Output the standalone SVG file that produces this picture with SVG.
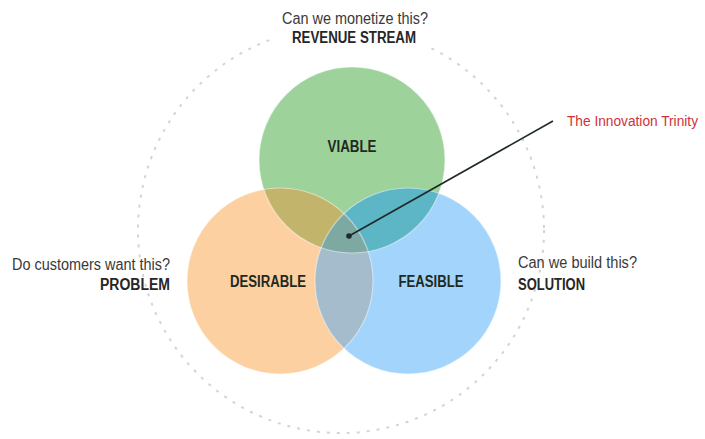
<svg xmlns="http://www.w3.org/2000/svg" width="705" height="439" viewBox="0 0 705 439">
<style>
.q{font-family:"Liberation Sans",Arial,sans-serif;font-size:16px;fill:#3a3a3a}
.b{font-family:"Liberation Sans",Arial,sans-serif;font-size:16px;font-weight:bold;fill:#262626}
.c{font-family:"Liberation Sans",Arial,sans-serif;font-size:16px;font-weight:bold;fill:#1f2a1f}
.r{font-family:"Liberation Sans",Arial,sans-serif;font-size:14px;fill:#d0313a}
.edge{fill:none;stroke:#ffffff;stroke-opacity:0.45;stroke-width:1.2}
</style>
<defs>
<clipPath id="cg"><circle cx="352" cy="160" r="93"/></clipPath>
<clipPath id="co"><circle cx="280" cy="281" r="93"/></clipPath>
<clipPath id="cb"><circle cx="408" cy="281" r="93"/></clipPath>
</defs>
<rect width="705" height="439" fill="#ffffff"/>
<g id="outer">
<circle cx="341" cy="230" r="203" fill="none" stroke="#d4d4d4" stroke-width="2" stroke-dasharray="3 7"/>
<rect x="275" y="8" width="160" height="40" fill="#ffffff"/>
</g>
<g id="viable">
<circle cx="352" cy="160" r="93" fill="#9dd29b"/>
</g>
<g id="desirable">
<circle cx="280" cy="281" r="93" fill="#fdd0a2"/>
</g>
<g id="feasible">
<circle cx="408" cy="281" r="93" fill="#a3d4fb"/>
</g>
<g id="overlaps">
<g clip-path="url(#cg)"><circle cx="280" cy="281" r="93" fill="#c2b46b"/></g>
<g clip-path="url(#cg)"><circle cx="408" cy="281" r="93" fill="#5cb6c6"/></g>
<g clip-path="url(#co)"><circle cx="408" cy="281" r="93" fill="#a4bccc"/></g>
<g clip-path="url(#cg)"><g clip-path="url(#co)"><circle cx="408" cy="281" r="93" fill="#7ea9a2"/></g></g>
<circle class="edge" cx="352" cy="160" r="93"/>
<circle class="edge" cx="280" cy="281" r="93"/>
<circle class="edge" cx="408" cy="281" r="93"/>
</g>
<g id="connectors">
<line x1="349" y1="236" x2="553" y2="121" stroke="#1e2a2a" stroke-width="1.6"/>
<circle cx="349" cy="236" r="2.8" fill="#1e2a2a"/>
</g>
<g id="labels">
<text class="c" x="352" y="152" text-anchor="middle" textLength="49" lengthAdjust="spacingAndGlyphs">VIABLE</text>
<text class="c" x="268" y="287" text-anchor="middle" textLength="76" lengthAdjust="spacingAndGlyphs">DESIRABLE</text>
<text class="c" x="431" y="287" text-anchor="middle" textLength="65" lengthAdjust="spacingAndGlyphs">FEASIBLE</text>
</g>
<g id="revenue">
<text class="q" x="355" y="24" text-anchor="middle" textLength="146" lengthAdjust="spacingAndGlyphs">Can we monetize this?</text>
<text class="b" x="354" y="43" text-anchor="middle" textLength="124" lengthAdjust="spacingAndGlyphs">REVENUE STREAM</text>
</g>
<g id="problem">
<text class="q" x="12" y="270" textLength="158" lengthAdjust="spacingAndGlyphs">Do customers want this?</text>
<text class="b" x="170" y="290" text-anchor="end" textLength="70" lengthAdjust="spacingAndGlyphs">PROBLEM</text>
</g>
<g id="solution">
<text class="q" x="518" y="268" textLength="119" lengthAdjust="spacingAndGlyphs">Can we build this?</text>
<text class="b" x="518" y="290" textLength="67" lengthAdjust="spacingAndGlyphs">SOLUTION</text>
</g>
<g id="trinity">
<text class="r" x="567" y="126" textLength="131" lengthAdjust="spacingAndGlyphs">The Innovation Trinity</text>
</g>
</svg>
